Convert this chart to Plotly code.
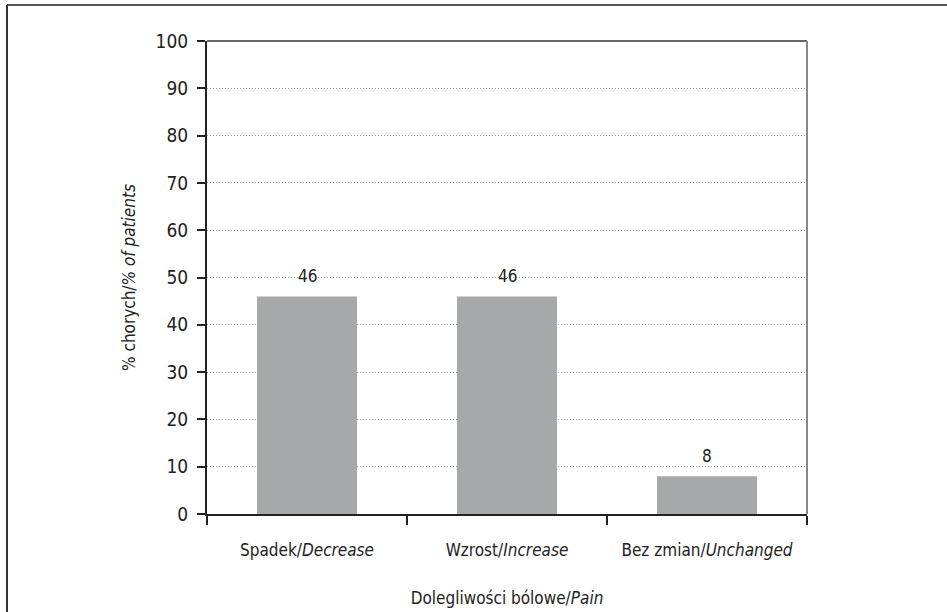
import plotly.graph_objects as go

# Pain-change categories and share of patients (%)
categories = ["Spadek/<i>Decrease</i>", "Wzrost/<i>Increase</i>", "Bez zmian/<i>Unchanged</i>"]
percent = [46, 46, 8]
y_ticks = list(range(0, 101, 10))

FONT = "DejaVu Sans Condensed, Liberation Sans Narrow, Arial Narrow, sans-serif"
BAR_COLOR = "#a7a8aa"
INK = "#222"

fig = go.Figure()
fig.add_trace(go.Bar(
    x=categories,
    y=percent,
    marker=dict(color=BAR_COLOR, line=dict(width=0)),
    hoverinfo="skip",
))

# value labels above each bar
for cat, val in zip(categories, percent):
    fig.add_annotation(
        x=cat, y=val, text=str(val), showarrow=False,
        yanchor="bottom", yshift=8,
        font=dict(family=FONT, size=17, color=INK),
    )

W, H = 947, 612
L, R, T, B = 207, 140, 41, 98
pw, ph = W - L - R, H - T - B

def px(x):
    return (x - L) / pw

def py(y):
    return (H - B - y) / ph

# outer frame: top and left edges
fig.add_shape(type="line", xref="paper", yref="paper",
              x0=px(7), x1=px(947), y0=py(5), y1=py(5),
              line=dict(color="#555", width=2))
fig.add_shape(type="line", xref="paper", yref="paper",
              x0=px(7), x1=px(7), y0=py(5), y1=py(612),
              line=dict(color="#333", width=2))
# plot-area frame: top and right edges
fig.add_shape(type="line", xref="paper", yref="paper",
              x0=0, x1=1, y0=1, y1=1,
              line=dict(color="#333", width=1.5))
fig.add_shape(type="line", xref="paper", yref="paper",
              x0=1, x1=1, y0=0, y1=1,
              line=dict(color="#888", width=2))

fig.update_layout(
    width=W, height=H,
    margin=dict(l=L, r=R, t=T, b=B),
    paper_bgcolor="white", plot_bgcolor="white",
    showlegend=False,
    bargap=0.5,
    font=dict(family=FONT, size=16, color=INK),
    xaxis=dict(
        type="category",
        automargin=False,
        tickson="boundaries",
        ticks="outside", ticklen=9, tickwidth=1.5, tickcolor=INK,
        ticklabelstandoff=20,
        showline=True, linecolor=INK, linewidth=2,
        showgrid=False, zeroline=False,
        tickfont=dict(family=FONT, size=17, color=INK),
        title=dict(text="Dolegliwości bólowe/<i>Pain</i>", standoff=33,
                   font=dict(family=FONT, size=17, color=INK)),
        range=[-0.5, 2.5],
    ),
    yaxis=dict(
        range=[0, 100],
        automargin=False,
        tickvals=y_ticks,
        ticks="outside", ticklen=8, tickwidth=2, tickcolor=INK,
        ticklabelstandoff=5,
        showline=True, linecolor=INK, linewidth=2,
        showgrid=True, gridcolor="#999", gridwidth=1, griddash="1px,2px",
        zeroline=False,
        tickfont=dict(family=FONT, size=19, color=INK),
        title=dict(text="% chorych/<i>% of patients</i>", standoff=16,
                   font=dict(family=FONT, size=17, color=INK)),
    ),
)

fig.write_html("out.html")
